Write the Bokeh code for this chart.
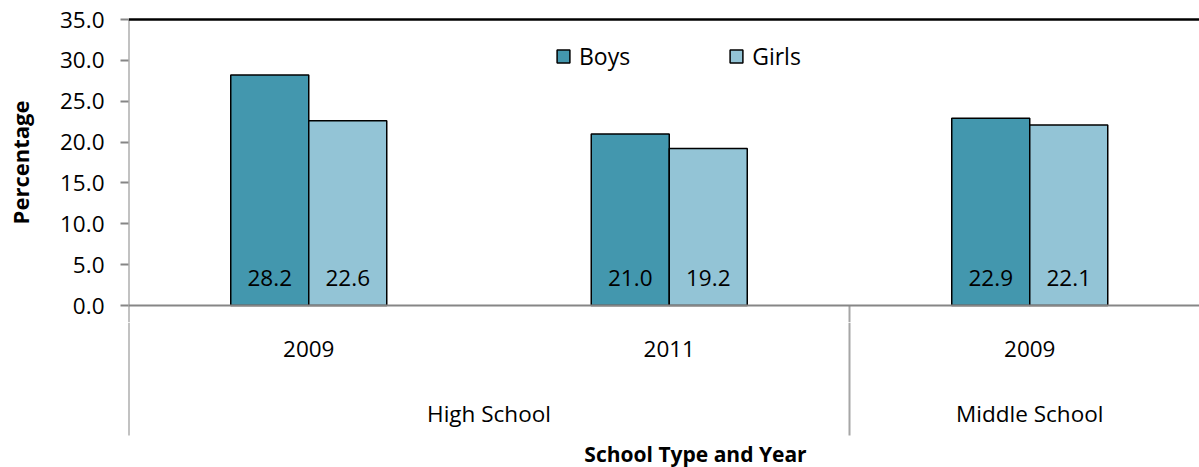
import numpy as np
from bokeh.plotting import figure
from bokeh.layouts import column
from bokeh.models import (Range1d, FixedTicker, Legend, LegendItem,
                          ColumnDataSource, Span, NumeralTickFormatter)
from bokeh.core.properties import value
from bokeh.embed import file_html
from bokeh.resources import INLINE

# ---- data -------------------------------------------------------------
years = ["2009", "2011", "2009"]
school_types = ["High School", "High School", "Middle School"]
boys = [28.2, 21.0, 22.9]
girls = [22.6, 19.2, 22.1]
y_ticks = [0, 5, 10, 15, 20, 25, 30, 35]
series_names = ["Boys", "Girls"]

# ---- layout constants ---------------------------------------------------
FONT = "Open Sans"
FS = "22.5px"
W, H = 1199, 467
LEFT, TOP = 128, 2
ZERO_PX = 305                      # canvas row of value 0
TOP_PX = 19                        # canvas row of value 35
SPLIT_PX = 322                     # row where the chart panel meets the label panel
Y_MAX = 35
PPU = (ZERO_PX - TOP_PX) / Y_MAX   # pixels per percentage point
CAT_PX = 360.5                     # width of one category slot
BAR_PX = 78
GRAY = "#868686"
SEP_GRAY = "#A6A6A6"
BOYS_COLOR = "#4397AE"
GIRLS_COLOR = "#93C4D6"


def row_to_y(row):
    """Data value that sits on a given canvas row."""
    return (ZERO_PX - row) / PPU


x_range = Range1d(0, (W - LEFT) / CAT_PX)
x_end = x_range.end
bar_w = BAR_PX / CAT_PX
centers = np.arange(len(years)) + 0.5
bounds = [i for i in range(1, len(school_types)) if school_types[i] != school_types[i - 1]]
sep_bottom = row_to_y(435)

# ======================= chart panel ==========================================
p = figure(width=W, height=SPLIT_PX, output_backend="svg", toolbar_location=None,
           x_range=x_range, y_range=Range1d(row_to_y(SPLIT_PX), row_to_y(TOP)),
           x_axis_location=None,
           min_border_left=LEFT, min_border_right=0,
           min_border_top=TOP, min_border_bottom=0)
p.outline_line_color = None
p.xgrid.visible = False
p.ygrid.visible = False

ax = p.yaxis[0]
ax.ticker = FixedTicker(ticks=y_ticks)
ax.formatter = NumeralTickFormatter(format="0.0")
ax.axis_line_color = None
ax.major_tick_line_color = GRAY
ax.major_tick_line_width = 2
ax.major_tick_out = 8
ax.major_tick_in = 0
ax.minor_tick_line_color = None
ax.major_label_standoff = 16
ax.major_label_text_font = FONT
ax.major_label_text_font_size = FS
ax.major_label_text_color = "black"
ax.axis_label = "Percentage"
ax.axis_label_standoff = 22
ax.axis_label_text_font = FONT
ax.axis_label_text_font_size = "22px"
ax.axis_label_text_font_style = "bold"
ax.axis_label_text_color = "black"

# frame lines
p.add_layout(Span(location=0, dimension="width", line_color=GRAY, line_width=2))
p.segment(x0=[0], y0=[Y_MAX], x1=[0], y1=[row_to_y(SPLIT_PX)], line_color=GRAY, line_width=2)
p.segment(x0=[0], y0=[Y_MAX], x1=[x_end], y1=[Y_MAX], line_color="black", line_width=2.5)
p.segment(x0=bounds, y0=[0] * len(bounds), x1=bounds,
          y1=[row_to_y(SPLIT_PX)] * len(bounds), line_color=SEP_GRAY, line_width=2)

# bars
src = ColumnDataSource(dict(
    xb=centers - bar_w / 2, xg=centers + bar_w / 2,
    boys=boys, girls=girls,
    boys_txt=[f"{v:.1f}" for v in boys], girls_txt=[f"{v:.1f}" for v in girls],
))
rb = p.vbar(x="xb", top="boys", width=bar_w, source=src,
            fill_color=BOYS_COLOR, line_color="black", line_width=1.5)
rg = p.vbar(x="xg", top="girls", width=bar_w, source=src,
            fill_color=GIRLS_COLOR, line_color="black", line_width=1.5)

for col, xcol in (("boys_txt", "xb"), ("girls_txt", "xg")):
    p.text(x=xcol, y=0, text=col, source=src, y_offset=-28,
           text_align="center", text_baseline="middle",
           text_font=value(FONT), text_font_size=FS, text_color="black")

legend = Legend(items=[LegendItem(label=series_names[0], renderers=[rb]),
                       LegendItem(label=series_names[1], renderers=[rg])],
                orientation="horizontal", location=(555 - LEFT, SPLIT_PX - 72),
                padding=0, margin=0, spacing=98, label_standoff=8,
                glyph_width=16, glyph_height=16, label_height=16,
                label_text_font=FONT, label_text_font_size="23px",
                label_text_color="black",
                border_line_color=None, background_fill_alpha=0)
p.add_layout(legend)

# ======================= category label panel ================================
q = figure(width=W, height=H - SPLIT_PX, output_backend="svg", toolbar_location=None,
           x_range=x_range, y_range=Range1d(row_to_y(H), row_to_y(SPLIT_PX)),
           x_axis_location=None, y_axis_location=None,
           min_border_left=LEFT, min_border_right=0,
           min_border_top=0, min_border_bottom=0)
q.outline_line_color = None
q.xgrid.visible = False
q.ygrid.visible = False

q.segment(x0=[0], y0=[row_to_y(SPLIT_PX)], x1=[0], y1=[sep_bottom],
          line_color=GRAY, line_width=2)
q.segment(x0=bounds, y0=[row_to_y(SPLIT_PX)] * len(bounds), x1=bounds,
          y1=[sep_bottom] * len(bounds), line_color=SEP_GRAY, line_width=2)

q.text(x=centers, y=[row_to_y(ZERO_PX + 43)] * len(years), text=years,
       text_align="center", text_baseline="middle",
       text_font=value(FONT), text_font_size=FS, text_color="black")

group_names, group_pos = [], []
start = 0
for b in bounds + [len(school_types)]:
    group_names.append(school_types[start])
    group_pos.append((start + b) / 2)
    start = b
q.text(x=group_pos, y=[row_to_y(ZERO_PX + 108)] * len(group_pos), text=group_names,
       text_align="center", text_baseline="middle",
       text_font=value(FONT), text_font_size=FS, text_color="black")

q.text(x=[(695 - LEFT) / CAT_PX], y=[row_to_y(ZERO_PX + 148)], text=["School Type and Year"],
       text_align="center", text_baseline="middle",
       text_font=value(FONT), text_font_size="21px", text_font_style="bold",
       text_color="black")

layout = column(p, q, spacing=0)
open("out.html", "w").write(file_html(layout, INLINE))
